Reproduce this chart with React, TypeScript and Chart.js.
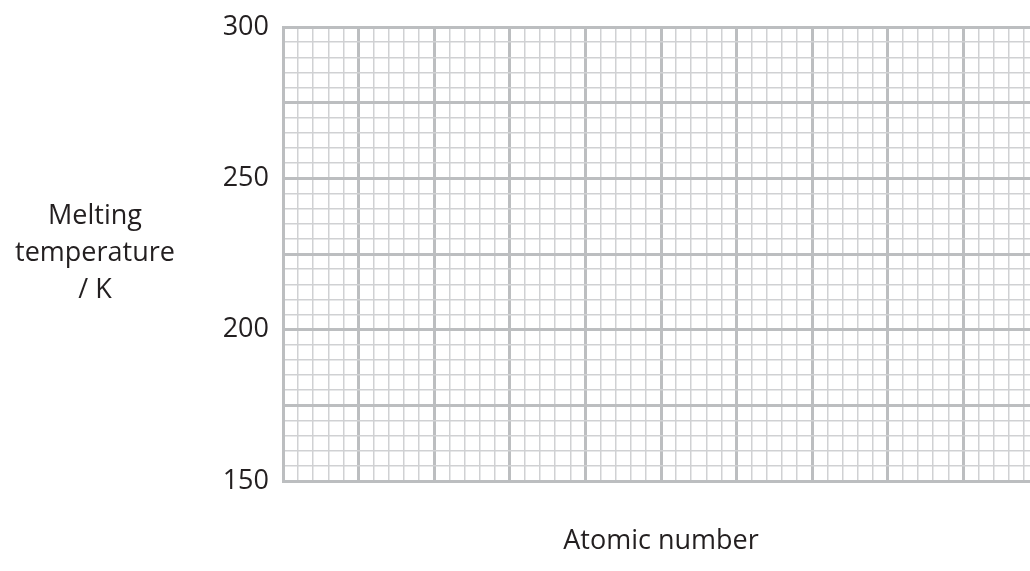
import React, { useEffect, useRef } from "react";
import { Chart, registerables } from "chart.js";

Chart.register(...registerables);

// ---- data (blank graph paper: no plotted points) ----
const yTickLabels = [150, 200, 250, 300];
const yMin = 150;
const yMax = 300;
const yMinorStep = 5;
const yMajorStep = 25;
const xMin = 0;
const xMax = 50;
const xMinorStep = 1;
const xMajorStep = 5;
const yTitleLines = ["Melting", "temperature", "/ K"];
const xTitle = "Atomic number";
const points: { x: number; y: number }[] = [];

const MAJOR = "#bcbec0";
const MINOR = "#d0d1d3";
const TEXT = "#231f20";
const FONT = "'Open Sans', 'Noto Sans', sans-serif";

const yTitlePlugin = {
  id: "yTitleHorizontal",
  afterDraw(chart: any) {
    const ctx = chart.ctx;
    ctx.save();
    ctx.font = `27px ${FONT}`;
    ctx.fillStyle = TEXT;
    ctx.textAlign = "center";
    ctx.textBaseline = "middle";
    const cx = 95;
    const cy = 253;
    const lh = 37;
    yTitleLines.forEach((t, i) => {
      ctx.fillText(t, cx, cy + (i - 1) * lh);
    });
    ctx.restore();
  },
};

export default function App() {
  const ref = useRef<HTMLCanvasElement | null>(null);
  useEffect(() => {
    if (!ref.current) return;
    const chart = new Chart(ref.current, {
      type: "scatter",
      data: { datasets: [{ data: points, showLine: false, pointRadius: 0 }] },
      options: {
        animation: false,
        responsive: false,
        layout: { padding: { left: 0, top: 27, right: 21, bottom: 0 } },
        plugins: { legend: { display: false }, tooltip: { enabled: false } },
        scales: {
          x: {
            type: "linear",
            min: xMin,
            max: xMax,
            afterFit(scale: any) {
              scale.height = 90;
              scale.paddingLeft = 0;
              scale.paddingRight = 0;
            },
            ticks: { display: false, stepSize: xMinorStep, autoSkip: false, maxTicksLimit: 1000 },
            grid: {
              drawTicks: false,
              color: (c: any) => (c.tick && c.tick.value % xMajorStep === 0 ? MAJOR : MINOR),
              lineWidth: (c: any) => (c.tick && c.tick.value % xMajorStep === 0 ? 3 : 1.5),
            },
            border: { display: true, color: MAJOR, width: 3 },
            title: {
              display: true,
              text: xTitle,
              color: TEXT,
              font: { family: FONT, size: 27 },
              padding: { top: 0, bottom: 13 },
            },
          },
          y: {
            type: "linear",
            min: yMin,
            max: yMax,
            afterFit(scale: any) {
              scale.width = 283;
              scale.paddingTop = 0;
              scale.paddingBottom = 0;
            },
            ticks: {
              stepSize: yMinorStep,
              autoSkip: false,
              maxTicksLimit: 1000,
              padding: 14,
              color: TEXT,
              font: { family: FONT, size: 27 },
              callback: (v: any) => (yTickLabels.includes(Number(v)) ? String(v) : ""),
            },
            grid: {
              drawTicks: false,
              color: (c: any) => (c.tick && c.tick.value % yMajorStep === 0 ? MAJOR : MINOR),
              lineWidth: (c: any) => (c.tick && c.tick.value % yMajorStep === 0 ? 3 : 1.5),
            },
            border: { display: true, color: MAJOR, width: 3 },
          },
        },
      },
      plugins: [yTitlePlugin],
    });
    return () => chart.destroy();
  }, []);
  return (
    <div
      style={{
        position: "fixed",
        left: 0,
        top: 0,
        width: 1030,
        height: 571,
        overflow: "hidden",
        background: "#ffffff",
      }}
    >
      <canvas ref={ref} width={1060} height={571} style={{ display: "block" }} />
    </div>
  );
}
